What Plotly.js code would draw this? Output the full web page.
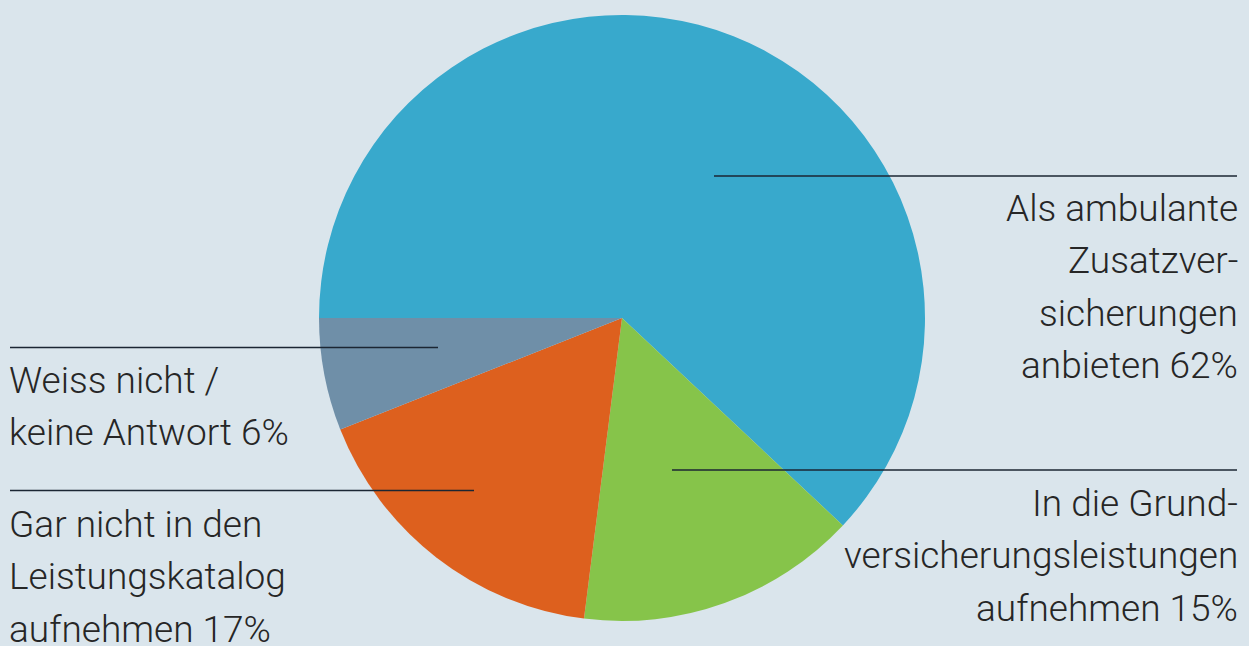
<!DOCTYPE html>
<html>
<head>
<meta charset="utf-8">
<script src="https://cdn.plot.ly/plotly-3.0.1.min.js"></script>
<style>
html,body{margin:0;padding:0;background:#dae5ec;}
#chart{width:1249px;height:646px;}
</style>
</head>
<body>
<div id="chart"></div>
<script>
// Data
const categories = [
  "Als ambulante Zusatzversicherungen anbieten",
  "In die Grundversicherungsleistungen aufnehmen",
  "Gar nicht in den Leistungskatalog aufnehmen",
  "Weiss nicht / keine Antwort"
];
const values = [62, 15, 17, 6];
const colors = ["#38a9cc", "#86c44a", "#dd601e", "#6f8fa8"];

// Label text lines (as printed)
const labelBlue = ["Als ambulante", "Zusatzver-", "sicherungen", "anbieten 62%"];
const labelGreen = ["In die Grund-", "versicherungsleistungen", "aufnehmen 15%"];
const labelGrey = ["Weiss nicht /", "keine Antwort 6%"];
const labelOrange = ["Gar nicht in den", "Leistungskatalog", "aufnehmen 17%"];

const W = 1249, H = 646;
const FS = 37;
const LH = 52.3;
const textColor = "#262626";
const fontFam = "Roboto, 'Liberation Sans', sans-serif";

// layout helpers (pixel -> paper)
const px = x => x / W;
const py = y => 1 - y / H;

const cx = 622, cy = 318, R = 303;

const trace = {
  type: "pie",
  labels: categories,
  values: values,
  marker: { colors: colors, line: { width: 0 } },
  sort: false,
  direction: "clockwise",
  rotation: -90,
  textinfo: "none",
  hoverinfo: "label+percent",
  showlegend: false,
  domain: { x: [px(cx - R), px(cx + R)], y: [py(cy + R), py(cy - R)] }
};

const annotations = [];
function addBlock(lines, x, firstBaseline, anchor) {
  lines.forEach((t, i) => {
    const base = firstBaseline + i * LH;
    annotations.push({
      xref: "paper", yref: "paper",
      x: px(x), y: py(base - 0.34 * FS),
      xanchor: anchor, yanchor: "middle",
      text: t, showarrow: false, align: anchor,
      font: { family: fontFam, size: FS, color: textColor, weight: 300 }
    });
  });
}
addBlock(labelBlue, 1240, 221, "right");
addBlock(labelGreen, 1240, 516, "right");
addBlock(labelGrey, 7, 393, "left");
addBlock(labelOrange, 7, 537, "left");

function hline(x0, x1, y) {
  return {
    type: "line", xref: "paper", yref: "paper",
    x0: px(x0), x1: px(x1), y0: py(y), y1: py(y),
    line: { color: "#1b2633", width: 1.5 }
  };
}
const shapes = [
  hline(714, 1237, 176),
  hline(672, 1237, 470),
  hline(10, 438, 347.5),
  hline(10, 474, 490.5)
];

const layout = {
  width: W, height: H,
  margin: { l: 0, r: 0, t: 0, b: 0 },
  paper_bgcolor: "#dae5ec",
  plot_bgcolor: "#dae5ec",
  annotations: annotations,
  shapes: shapes,
  showlegend: false
};

Plotly.newPlot("chart", [trace], layout, { displayModeBar: false, staticPlot: true });
</script>
</body>
</html>
